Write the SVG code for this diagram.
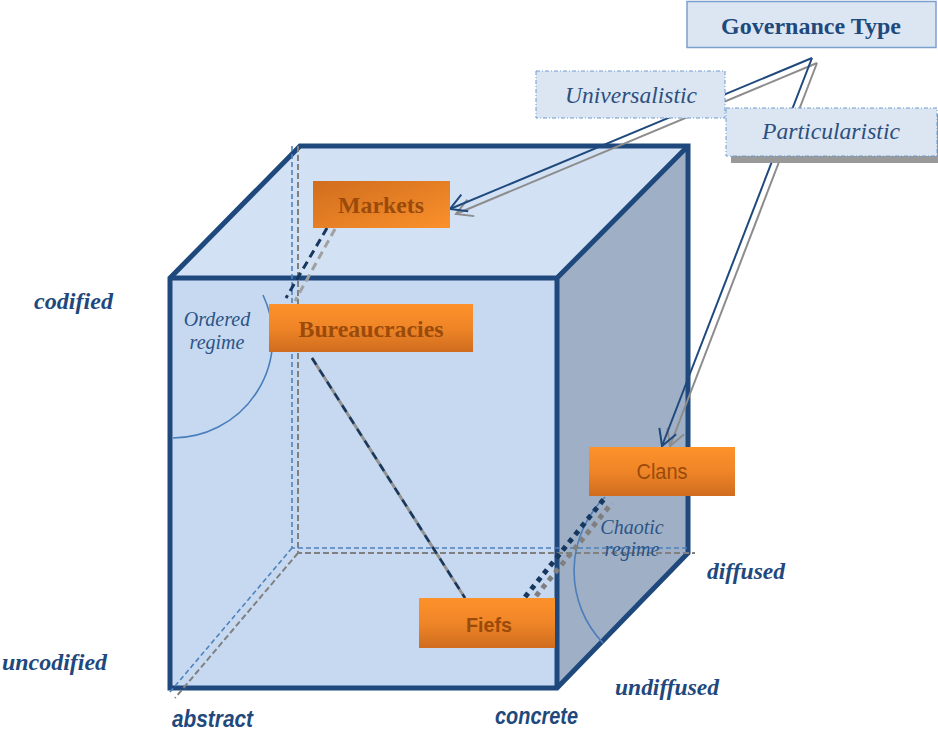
<svg xmlns="http://www.w3.org/2000/svg" width="938" height="733" viewBox="0 0 938 733">
  <style>
    .edge { fill: none; stroke: #1f497d; stroke-width: 5; stroke-linejoin: miter; }
    .hid-blue { fill: none; stroke: #4f81bd; stroke-width: 1.6; stroke-dasharray: 5 3; }
    .hid-gray { fill: none; stroke: #808080; stroke-width: 2; stroke-dasharray: 6 3; }
    .arc { fill: none; stroke: #4a7ebb; stroke-width: 1.6; }
    .gov-box { fill: #dce6f2; stroke: #7ba0cd; stroke-width: 1.5; }
    .type-box { fill: #dce6f2; stroke: #6f9bd1; stroke-width: 1; stroke-dasharray: 4 2 1 2; }
    .node-text { fill: #9a4b0b; text-anchor: middle; }
    .serif { font-family: "Liberation Serif", "Times New Roman", serif; }
    .sans { font-family: "Liberation Sans", Arial, sans-serif; }
    .axis { fill: #1f497d; font-weight: bold; font-style: italic; font-size: 23px; }
    .regime { fill: #2c5487; font-style: italic; font-size: 20px; text-anchor: middle; }
    .type-text { fill: #2c4f7f; font-style: italic; font-size: 23px; text-anchor: middle; }
  </style>
  <defs>
    <linearGradient id="orangeDiag" x1="0" y1="0" x2="1" y2="1">
      <stop offset="0" stop-color="#d06d1e"/>
      <stop offset="1" stop-color="#fb912b"/>
    </linearGradient>
    <linearGradient id="orangeDown" x1="0" y1="0" x2="0" y2="1">
      <stop offset="0" stop-color="#fd922b"/>
      <stop offset="0.5" stop-color="#ef8527"/>
      <stop offset="1" stop-color="#cf6c1e"/>
    </linearGradient>
    <marker id="arrowNavy" viewBox="0 0 20 20" refX="18" refY="10" markerWidth="20" markerHeight="20" markerUnits="userSpaceOnUse" orient="auto">
      <path d="M2,1 L18,10 L2,19" fill="none" stroke="#1f497d" stroke-width="2"/>
    </marker>
    <marker id="arrowGray" viewBox="0 0 20 20" refX="18" refY="10" markerWidth="20" markerHeight="20" markerUnits="userSpaceOnUse" orient="auto">
      <path d="M2,1 L18,10 L2,19" fill="none" stroke="#8c8c8c" stroke-width="2"/>
    </marker>
  </defs>

  <!-- cube faces -->
  <g id="cube">
    <polygon points="170,278 300,146 688,146 557,278" fill="#d2e1f4"/>
    <polygon points="557,278 688,146 688,553 557,688" fill="#9fb0c6"/>
    <rect x="170" y="278" width="387" height="410" fill="#c6d9f0"/>
    <path class="edge" d="M170,278 L300,146 L688,146 L688,553 L557,688 L170,688 Z"/>
    <path class="edge" d="M170,278 L557,278 L688,146 M557,278 L557,688"/>
  </g>

  <!-- hidden back edges -->
  <g id="hidden-edges">
    <path class="hid-gray" d="M298,146 L298,553 L695,553 M298,553 L175,698"/>
    <path class="hid-blue" d="M292,146 L292,548 L688,548 M292,548 L170,692"/>
  </g>

  <!-- regime arcs -->
  <g id="regime-arcs">
    <path class="arc" d="M263,295 A100,100 0 0 1 173,438"/>
    <path class="arc" d="M605,497 A104,104 0 0 0 603,643"/>
  </g>

  <!-- connectors -->
  <g id="connectors">
    <!-- Markets to Bureaucracies -->
    <line x1="335" y1="229" x2="295" y2="301" stroke="#a0a0a0" stroke-width="3" stroke-dasharray="8 5"/>
    <line x1="327" y1="228" x2="286" y2="298" stroke="#17375e" stroke-width="3" stroke-dasharray="8 5"/>
    <!-- Bureaucracies to Fiefs -->
    <line x1="312" y1="358" x2="465" y2="598" stroke="#929292" stroke-width="3"/>
    <line x1="312" y1="358" x2="465" y2="598" stroke="#17375e" stroke-width="2.5" stroke-dasharray="8 6"/>
    <!-- Fiefs to Clans -->
    <line x1="536" y1="596" x2="612" y2="503" stroke="#7f7f7f" stroke-width="5" stroke-dasharray="5 5"/>
    <line x1="525" y1="597" x2="604" y2="499" stroke="#17375e" stroke-width="5" stroke-dasharray="5 5"/>
    <!-- Governance Type arrows -->
    <line x1="817" y1="63" x2="456" y2="214" stroke="#8c8c8c" stroke-width="2" marker-end="url(#arrowGray)"/>
    <line x1="817" y1="63" x2="670" y2="446" stroke="#8c8c8c" stroke-width="2" marker-end="url(#arrowGray)"/>
    <line x1="812" y1="58" x2="450" y2="209" stroke="#1f497d" stroke-width="2" marker-end="url(#arrowNavy)"/>
    <line x1="812" y1="58" x2="662" y2="446" stroke="#1f497d" stroke-width="2" marker-end="url(#arrowNavy)"/>
  </g>

  <!-- governance type and its two kinds -->
  <g id="governance-type">
    <rect class="gov-box" x="687" y="1.5" width="249" height="46"/>
    <text class="serif" x="811" y="34" text-anchor="middle" font-size="24" font-weight="bold" fill="#1f497d">Governance Type</text>
  </g>
  <g id="universalistic">
    <rect class="type-box" x="536" y="71" width="189" height="47"/>
    <text class="serif type-text" x="631" y="103" textLength="132" lengthAdjust="spacingAndGlyphs">Universalistic</text>
  </g>
  <g id="particularistic">
    <rect x="731" y="114" width="207" height="49" fill="#999999"/>
    <rect class="type-box" x="726" y="108" width="211" height="48"/>
    <text class="serif type-text" x="831" y="139" textLength="138" lengthAdjust="spacingAndGlyphs">Particularistic</text>
  </g>

  <!-- institution nodes -->
  <g id="markets">
    <rect x="313" y="181" width="137" height="47" fill="url(#orangeDiag)"/>
    <text class="serif node-text" x="381" y="213" font-size="24" font-weight="bold" textLength="86" lengthAdjust="spacingAndGlyphs">Markets</text>
  </g>
  <g id="bureaucracies">
    <rect x="269" y="304" width="204" height="48" fill="url(#orangeDown)"/>
    <text class="serif node-text" x="371" y="337" font-size="24" font-weight="bold" textLength="145" lengthAdjust="spacingAndGlyphs">Bureaucracies</text>
  </g>
  <g id="clans">
    <rect x="589" y="447" width="146" height="49" fill="url(#orangeDown)"/>
    <text class="sans node-text" x="662" y="479" font-size="22" textLength="51" lengthAdjust="spacingAndGlyphs">Clans</text>
  </g>
  <g id="fiefs">
    <rect x="419" y="598" width="136" height="50" fill="url(#orangeDown)"/>
    <text class="sans node-text" x="489" y="632" font-size="21" font-weight="bold" textLength="46" lengthAdjust="spacingAndGlyphs">Fiefs</text>
  </g>

  <!-- regime labels -->
  <g id="regime-labels">
    <text class="serif regime" x="217" y="326">Ordered</text>
    <text class="serif regime" x="217" y="349">regime</text>
    <text class="serif regime" x="632" y="534">Chaotic</text>
    <text class="serif regime" x="632" y="556">regime</text>
  </g>

  <!-- axis labels -->
  <g id="axis-labels">
    <text class="serif axis" x="34" y="309" textLength="79" lengthAdjust="spacingAndGlyphs">codified</text>
    <text class="serif axis" x="2" y="670" textLength="105" lengthAdjust="spacingAndGlyphs">uncodified</text>
    <text class="serif axis" x="707" y="579" textLength="78" lengthAdjust="spacingAndGlyphs">diffused</text>
    <text class="serif axis" x="615" y="695" textLength="104" lengthAdjust="spacingAndGlyphs">undiffused</text>
    <text class="sans axis" x="172" y="727" font-size="21" textLength="81" lengthAdjust="spacingAndGlyphs">abstract</text>
    <text class="sans axis" x="495" y="724" font-size="21" textLength="83" lengthAdjust="spacingAndGlyphs">concrete</text>
  </g>
</svg>
